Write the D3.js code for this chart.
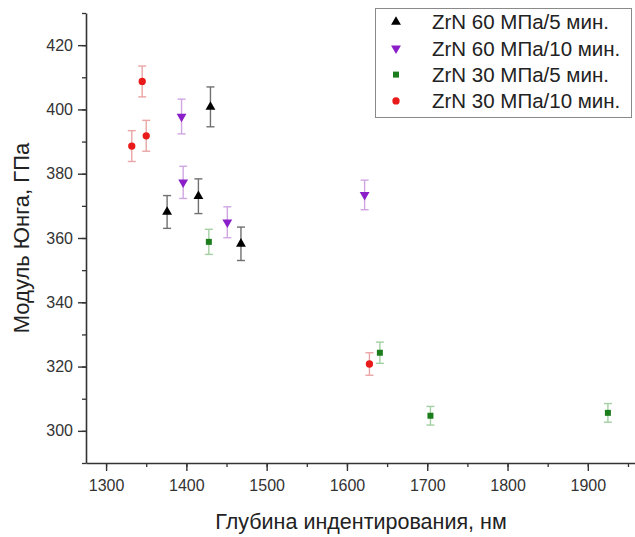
<!DOCTYPE html>
<html>
<head>
<meta charset="utf-8">
<script src="https://cdn.jsdelivr.net/npm/d3@7"></script>
<style>
    body { margin: 0; background: #fff; }
    svg { display: block; font-family: "Liberation Sans", Arial, sans-serif; }
</style>
</head>
<body>
<svg id="chart" width="635" height="537"></svg>
<script>
/***************************************************************
    Data
****************************************************************/
const seriesNames = ["ZrN 60 МПа/5 мин.", "ZrN 60 МПа/10 мин.", "ZrN 30 МПа/5 мин.", "ZrN 30 МПа/10 мин."];

const depth60_5 = [1376, 1415, 1430, 1468];
const modulus60_5 = [368.1, 373.0, 400.8, 358.2];
const error60_5 = [5.1, 5.4, 6.2, 5.2];

const depth60_10 = [1394, 1396, 1451, 1622];
const modulus60_10 = [397.8, 377.3, 364.9, 373.4];
const error60_10 = [5.4, 5.0, 4.8, 4.6];

const depth30_5 = [1428, 1641, 1704, 1925];
const modulus30_5 = [358.8, 324.3, 304.7, 305.6];
const error30_5 = [3.9, 3.3, 2.9, 2.9];

const depth30_10 = [1332, 1345, 1350, 1628];
const modulus30_10 = [388.6, 408.7, 391.8, 320.8];
const error30_10 = [4.8, 4.8, 4.8, 3.5];

const xTicks = [1300, 1400, 1500, 1600, 1700, 1800, 1900];
const yTicks = [300, 320, 340, 360, 380, 400, 420];

const xLabel = "Глубина индентирования, нм";
const yLabel = "Модуль Юнга, ГПа";

/***************************************************************
    Setup
****************************************************************/
const svg = d3.select("#chart");
const plotLeft = 86, plotRight = 636, plotTop = 13, plotBottom = 463;

const x = d3.scaleLinear().domain([1275, 1960]).range([plotLeft, plotRight]);
const y = d3.scaleLinear().domain([290, 430]).range([plotBottom, plotTop]);

const series = [
    { name: seriesNames[0], xs: depth60_5, ys: modulus60_5, es: error60_5, shape: d3.symbolTriangle, rot: 0, size: 42, color: "#000000", errColor: "#707070" },
    { name: seriesNames[1], xs: depth60_10, ys: modulus60_10, es: error60_10, shape: d3.symbolTriangle, rot: 180, size: 42, color: "#8a1fc9", errColor: "#cfa6e2" },
    { name: seriesNames[2], xs: depth30_5, ys: modulus30_5, es: error30_5, shape: d3.symbolSquare, rot: 0, size: 36, color: "#1b7d1b", errColor: "#a2d0a2" },
    { name: seriesNames[3], xs: depth30_10, ys: modulus30_10, es: error30_10, shape: d3.symbolCircle, rot: 0, size: 42, color: "#e81a1a", errColor: "#eaa5a5" }
];

drawAxes();
series.forEach(drawSeries);
drawLegend();

/***************************************************************
    Drawing
****************************************************************/
function drawAxes() {
    const axisColor = "#333";

    // minor ticks first so the major ones sit on top
    svg.append("g").attr("transform", `translate(${plotLeft},0)`)
        .call(d3.axisLeft(y).tickValues(d3.range(290, 431, 10)).tickSize(4).tickFormat(""))
        .call(g => g.select(".domain").remove())
        .selectAll("line").attr("stroke", axisColor).attr("stroke-width", 1.3);
    svg.append("g").attr("transform", `translate(0,${plotBottom})`)
        .call(d3.axisBottom(x).tickValues(d3.range(1300, 1951, 50)).tickSize(4).tickFormat(""))
        .call(g => g.select(".domain").remove())
        .selectAll("line").attr("stroke", axisColor).attr("stroke-width", 1.3);

    let yAxis = svg.append("g").attr("transform", `translate(${plotLeft},0)`)
        .call(d3.axisLeft(y).tickValues(yTicks).tickSize(8).tickSizeOuter(0).tickPadding(5).tickFormat(d3.format("d")));
    let xAxis = svg.append("g").attr("transform", `translate(0,${plotBottom})`)
        .call(d3.axisBottom(x).tickValues(xTicks).tickSize(8).tickSizeOuter(0).tickPadding(9).tickFormat(d3.format("d")));

    [yAxis, xAxis].forEach(g => {
        g.select(".domain").attr("stroke", axisColor).attr("stroke-width", 1.6);
        g.selectAll(".tick line").attr("stroke", axisColor).attr("stroke-width", 1.4);
        g.selectAll(".tick text").attr("fill", "#333").attr("font-size", 16)
            .attr("font-family", "Liberation Sans, Arial, sans-serif");
    });

    svg.append("text").attr("x", 361).attr("y", 529).attr("text-anchor", "middle")
        .attr("font-size", 21.5).attr("fill", "#222").text(xLabel);
    svg.append("text").attr("transform", `translate(29,${(plotTop + plotBottom) / 2}) rotate(-90)`)
        .attr("text-anchor", "middle").attr("font-size", 22).attr("fill", "#222").text(yLabel);
}

function drawSeries(s) {
    const points = s.xs.map((d, i) => ({ x: d, y: s.ys[i], e: s.es[i] }));
    const g = svg.append("g");
    const cap = 4;

    const bars = g.selectAll("g.err").data(points).enter().append("g")
        .attr("stroke", s.errColor).attr("stroke-width", 1.4);
    bars.append("line")
        .attr("x1", d => x(d.x)).attr("x2", d => x(d.x))
        .attr("y1", d => y(d.y + d.e)).attr("y2", d => y(d.y - d.e));
    bars.append("line")
        .attr("x1", d => x(d.x) - cap).attr("x2", d => x(d.x) + cap)
        .attr("y1", d => y(d.y + d.e)).attr("y2", d => y(d.y + d.e));
    bars.append("line")
        .attr("x1", d => x(d.x) - cap).attr("x2", d => x(d.x) + cap)
        .attr("y1", d => y(d.y - d.e)).attr("y2", d => y(d.y - d.e));

    g.selectAll("path").data(points).enter().append("path")
        .attr("d", d3.symbol().type(s.shape).size(s.size))
        .attr("transform", d => `translate(${x(d.x)},${y(d.y)}) rotate(${s.rot})`)
        .attr("fill", s.color);
}

function drawLegend() {
    const lg = svg.append("g");
    lg.append("rect").attr("x", 375.5).attr("y", 8.5).attr("width", 256).attr("height", 109)
        .attr("fill", "#fff").attr("stroke", "#8a8a8a").attr("stroke-width", 1);

    series.forEach((s, i) => {
        const cy = 22 + i * 26.3;
        lg.append("path")
            .attr("d", d3.symbol().type(s.shape).size(s.size))
            .attr("transform", `translate(396,${cy}) rotate(${s.rot})`)
            .attr("fill", s.color);
        lg.append("text").attr("x", 432).attr("y", cy).attr("dy", "0.36em")
            .attr("font-size", 20.5).attr("fill", "#222").text(s.name);
    });
}
</script>
</body>
</html>
